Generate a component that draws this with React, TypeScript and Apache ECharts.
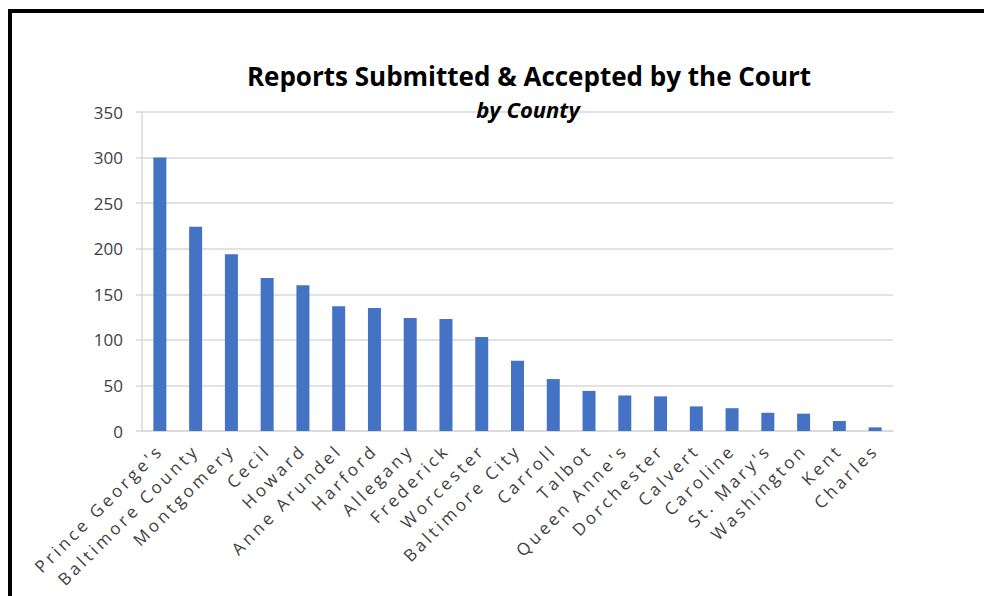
import React, { useEffect, useRef } from "react";
import * as echarts from "echarts";

const counties = [
  "Prince George's", "Baltimore County", "Montgomery", "Cecil", "Howard",
  "Anne Arundel", "Harford", "Allegany", "Frederick", "Worcester",
  "Baltimore City", "Carroll", "Talbot", "Queen Anne's", "Dorchester",
  "Calvert", "Caroline", "St. Mary's", "Washington", "Kent", "Charles",
];
const reports = [300, 224, 194, 168, 160, 137, 135, 124, 123, 103, 77, 57, 44, 39, 38, 27, 25, 20, 19, 11, 4];
const yTicks = { min: 0, max: 350, interval: 50 };
const titleText = "Reports Submitted & Accepted by the Court";
const subtitleText = "by County";

export default function App() {
  const ref = useRef<HTMLDivElement>(null);
  useEffect(() => {
    if (!ref.current) return;
    const host = ref.current;
    const chart = echarts.init(host, null, { renderer: "svg" });
    const spaceLabels = () => {
      host.querySelectorAll("text").forEach((t) => {
        if (counties.indexOf((t.textContent || "").trim()) >= 0) {
          (t as SVGTextElement).style.letterSpacing = "3.3px";
        }
      });
    };
    chart.on("rendered", spaceLabels);
    chart.setOption({
      animation: false,
      backgroundColor: "#ffffff",
      grid: { left: 142, right: 91, top: 112, bottom: 165 },
      xAxis: {
        type: "category",
        data: counties,
        axisLine: { show: true, lineStyle: { color: "#d9d9d9", width: 1.5 } },
        axisTick: { show: false },
        axisLabel: {
          interval: 0,
          rotate: 45,
          margin: 16,
          color: "#404040",
          fontSize: 17,
          fontFamily: "Open Sans",
        },
      },
      yAxis: {
        type: "value",
        min: yTicks.min,
        max: yTicks.max,
        interval: yTicks.interval,
        axisLine: { show: true, lineStyle: { color: "#d9d9d9", width: 1.5 } },
        axisTick: { show: true, length: 6, lineStyle: { color: "#d9d9d9", width: 1.5 } },
        splitLine: { show: true, lineStyle: { color: "#d9d9d9", width: 1.5 } },
        axisLabel: {
          margin: 19,
          color: "#404040",
          fontSize: 17,
          fontFamily: "Open Sans",
        },
      },
      series: [
        {
          type: "bar",
          data: reports,
          barWidth: 13,
          itemStyle: { color: "#4472C4" },
        },
      ],
      graphic: [
        {
          type: "polyline",
          shape: { points: [[10, 596], [10, 11], [984, 11]] },
          style: { stroke: "#000000", lineWidth: 4, fill: null },
          z: 100,
        },
        {
          type: "text",
          x: 529,
          y: 76,
          style: {
            text: titleText,
            fontSize: 26,
            fontWeight: "bold",
            fontFamily: "Open Sans",
            fill: "#000000",
            textAlign: "center",
            textVerticalAlign: "middle",
          },
          z: 100,
        },
        {
          type: "text",
          x: 528,
          y: 109,
          style: {
            text: subtitleText,
            fontSize: 22,
            fontWeight: "bold",
            fontStyle: "italic",
            fontFamily: "Open Sans",
            fill: "#000000",
            textAlign: "center",
            textVerticalAlign: "middle",
          },
          z: 100,
        },
      ],
    });
    spaceLabels();
    const timer = window.setTimeout(spaceLabels, 50);
    return () => {
      window.clearTimeout(timer);
      chart.dispose();
    };
  }, []);
  return (
    <div
      ref={ref}
      style={{ position: "fixed", left: 0, top: 0, width: 984, height: 596, background: "#fff" }}
    />
  );
}
